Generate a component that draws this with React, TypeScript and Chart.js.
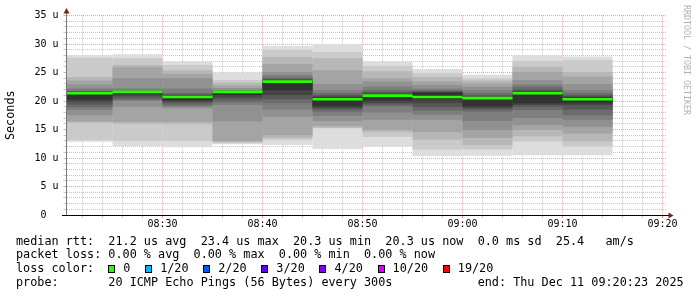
import { useEffect, useRef } from 'react';
import { Chart, registerables } from 'chart.js';

Chart.register(...registerables);

// ---- data ----
const VIEW_START = '08:20:24';
const VIEW_END = '09:20:24';
const STEP_MINUTES = 5;
const GRID_MINOR_MINUTES = 2;
const GRID_MAJOR_MINUTES = 10;

const INTERVAL_STARTS = ['08:20', '08:25', '08:30', '08:35', '08:40', '08:45', '08:50', '08:55', '09:00', '09:05', '09:10'];
const MEDIAN_RTT = [21.35, 21.6, 20.7, 21.6, 23.4, 20.3, 20.95, 20.7, 20.5, 21.35, 20.3];

// 20 sorted ping round-trip times (us) of each 300 s interval
const PINGS_0820 = [12.85, 13.1, 16.2, 16.4, 17.5, 18.4, 18.9, 19.4, 19.9, 20.2, 21.5, 21.6, 21.7, 21.8, 22.2, 22.9, 23.6, 24.2, 27.6, 28.05];
const PINGS_0825 = [12.1, 13.0, 16.0, 16.3, 19.0, 20.0, 20.2, 20.5, 20.9, 21.2, 21.65, 21.7, 21.8, 21.9, 22.2, 24.0, 25.9, 26.3, 27.5, 28.2];
const PINGS_0830 = [11.9, 13.0, 15.9, 16.3, 18.7, 19.0, 19.2, 19.6, 19.9, 20.1, 20.8, 21.0, 21.2, 21.4, 22.2, 24.0, 24.8, 25.4, 26.3, 26.9];
const PINGS_0835 = [12.4, 12.6, 12.8, 13.0, 16.4, 19.3, 19.8, 20.2, 20.6, 21.05, 21.7, 21.75, 21.8, 21.85, 21.9, 22.3, 22.7, 23.2, 23.7, 25.0];
const PINGS_0840 = [12.3, 13.2, 13.5, 14.0, 17.25, 18.5, 19.6, 20.3, 21.05, 21.9, 23.5, 23.7, 23.9, 24.1, 24.5, 25.1, 26.5, 27.7, 29.0, 29.65];
const PINGS_0845 = [11.6, 15.2, 15.3, 15.6, 16.5, 17.4, 18.1, 18.5, 18.8, 19.1, 20.6, 20.8, 21.05, 21.4, 21.9, 23.0, 25.4, 27.5, 28.6, 30.0];
const PINGS_0850 = [12.0, 13.7, 14.5, 14.9, 16.7, 18.0, 19.1, 19.4, 19.7, 20.1, 21.1, 21.3, 21.6, 21.9, 22.5, 23.4, 24.0, 25.2, 26.2, 26.9];
const PINGS_0855 = [10.3, 11.5, 13.2, 14.5, 16.7, 17.6, 18.3, 18.9, 19.6, 20.3, 21.5, 21.6, 21.7, 21.9, 22.2, 22.8, 23.4, 24.2, 24.9, 25.6];
const PINGS_0900 = [10.4, 11.5, 12.3, 13.5, 14.9, 16.5, 18.1, 18.5, 18.8, 19.1, 20.6, 20.8, 21.0, 21.4, 21.9, 22.5, 23.1, 23.6, 24.0, 24.6];
const PINGS_0905 = [10.5, 12.9, 13.8, 14.9, 15.8, 17.0, 18.4, 19.0, 19.3, 19.6, 21.5, 21.7, 22.0, 22.5, 22.9, 23.7, 25.1, 26.0, 27.0, 28.07];
const PINGS_0910 = [10.5, 12.0, 12.9, 14.3, 15.5, 16.7, 17.5, 18.5, 19.3, 19.6, 20.6, 20.8, 21.0, 21.4, 21.9, 23.0, 24.3, 25.1, 27.2, 27.8];

const SMOKE_ROWS = [PINGS_0820, PINGS_0825, PINGS_0830, PINGS_0835, PINGS_0840, PINGS_0845, PINGS_0850, PINGS_0855, PINGS_0900, PINGS_0905, PINGS_0910];

const X_TICK_LABELS = ['08:30', '08:40', '08:50', '09:00', '09:10', '09:20'];
const Y_MAX = 35;
const Y_MINOR_STEP = 1;
const Y_MAJOR_STEP = 5;
const Y_TICK_LABELS = ['0', '5 u', '10 u', '15 u', '20 u', '25 u', '30 u', '35 u'];
const Y_TITLE = 'Seconds';

const LOSS_LABELS = ['0', '1/20', '2/20', '3/20', '4/20', '10/20', '19/20'];
const LOSS_COLORS = ['#26ff00', '#00b8ff', '#0059ff', '#5e00ff', '#7e00ff', '#dd00ff', '#ff0000'];

const STATS_RTT = 'median rtt:  21.2 us avg  23.4 us max  20.3 us min  20.3 us now  0.0 ms sd  25.4   am/s';
const STATS_LOSS = 'packet loss: 0.00 % avg  0.00 % max  0.00 % min  0.00 % now';
const LOSS_TITLE = 'loss color:';
const PROBE_LINE = 'probe:       20 ICMP Echo Pings (56 Bytes) every 300s';
const END_LINE = 'end: Thu Dec 11 09:20:23 2025';
const WATERMARK = 'RRDTOOL / TOBI OETIKER';

// ---- styling ----
const MONO = '"DejaVu Sans Mono", monospace';
const GRID_MINOR = 'rgba(143,143,143,0.5)';
const GRID_MAJOR = 'rgba(222,79,79,0.5)';
const ARROW = '#801f1f';

function toMinutes(t: string): number {
  const [h, m, s = '0'] = t.split(':');
  return Number(h) * 60 + Number(m) + Number(s) / 60;
}

export default function App() {
  const ref = useRef<HTMLCanvasElement>(null);

  useEffect(() => {
    const canvas = ref.current;
    if (!canvas) return;
    const starts = INTERVAL_STARTS.map(toMinutes);
    const n = SMOKE_ROWS[0].length;
    const half = n / 2;

    const smoke = Array.from({ length: half }, (_, k) => {
      const g = Math.floor((190 / half) * (half - (k + 1))) + 50;
      return {
        type: 'bar' as const,
        label: `smoke ${k + 1}`,
        data: SMOKE_ROWS.map((p, i) => ({ x: starts[i] + STEP_MINUTES / 2, y: [p[k], p[n - 1 - k]] })),
        backgroundColor: `rgb(${g},${g},${g})`,
        borderWidth: 0,
        barThickness: 'flex' as const,
        barPercentage: 1,
        categoryPercentage: 1,
        inflateAmount: 0,
        stack: 'smoke',
        order: half - k + 1,
      };
    });

    const medianData: { x: number; y: number | null }[] = [];
    starts.forEach((s, i) => {
      medianData.push({ x: s, y: MEDIAN_RTT[i] }, { x: s + STEP_MINUTES, y: MEDIAN_RTT[i] }, { x: s + STEP_MINUTES, y: null });
    });

    const xLabelMap = new Map<number, string>();
    X_TICK_LABELS.forEach((l) => xLabelMap.set(Math.round(toMinutes(l)), l));

    const overlay = {
      id: 'rrdOverlay',
      afterDraw(chart: any) {
        const { ctx, chartArea: a } = chart;
        ctx.save();
        // y axis
        ctx.strokeStyle = '#777';
        ctx.lineWidth = 1;
        ctx.beginPath();
        ctx.moveTo(a.left, a.bottom + 1);
        ctx.lineTo(a.left, a.top - 3);
        ctx.stroke();
        // x axis
        ctx.strokeStyle = '#000';
        ctx.beginPath();
        ctx.moveTo(a.left - 4.5, a.bottom + 0.5);
        ctx.lineTo(a.right + 2.5, a.bottom + 0.5);
        ctx.stroke();
        // arrows
        ctx.fillStyle = ARROW;
        ctx.beginPath();
        ctx.moveTo(a.left, a.top - 7.5);
        ctx.lineTo(a.left - 3, a.top - 2);
        ctx.lineTo(a.left + 3, a.top - 2);
        ctx.closePath();
        ctx.fill();
        ctx.beginPath();
        ctx.moveTo(a.right + 7, a.bottom + 0.5);
        ctx.lineTo(a.right + 2, a.bottom - 2.5);
        ctx.lineTo(a.right + 2, a.bottom + 3.5);
        ctx.closePath();
        ctx.fill();

        // legend text
        ctx.font = `11.8px ${MONO}`;
        ctx.fillStyle = '#000';
        ctx.textBaseline = 'middle';
        ctx.textAlign = 'left';
        const cw = ctx.measureText('0').width;
        const x0 = 16;
        const y0 = 241.5;
        const dy = 13.7;
        ctx.fillText(STATS_RTT, x0, y0);
        ctx.fillText(STATS_LOSS, x0, y0 + dy);
        ctx.fillText(LOSS_TITLE, x0, y0 + 2 * dy);
        let bx = x0 + 13 * cw;
        const by = Math.round(y0 + 2 * dy) - 4;
        LOSS_LABELS.forEach((lbl, i) => {
          const rx = Math.round(bx);
          ctx.fillStyle = '#000';
          ctx.fillRect(rx, by, 7, 8);
          ctx.fillStyle = LOSS_COLORS[i];
          ctx.fillRect(rx + 1, by + 1, 5, 6);
          ctx.fillStyle = '#000';
          const lx = bx + 15;
          ctx.fillText(lbl, lx, y0 + 2 * dy);
          bx = lx + ctx.measureText(lbl).width + 14.7;
        });
        ctx.fillText(PROBE_LINE, x0, y0 + 3 * dy);
        ctx.fillText(END_LINE, x0 + 65 * cw, y0 + 3 * dy);

        // watermark
        ctx.font = `8.3px ${MONO}`;
        ctx.fillStyle = '#b0b0b0';
        ctx.textBaseline = 'alphabetic';
        ctx.translate(684, 5);
        ctx.rotate(Math.PI / 2);
        ctx.fillText(WATERMARK, 0, 0);
        ctx.restore();
      },
    };

    const gridColor = (c: any) => {
      const v = c.tick ? c.tick.value : 0;
      return c.scale.axis === 'x'
        ? (Math.round(v) % GRID_MAJOR_MINUTES === 0 ? GRID_MAJOR : GRID_MINOR)
        : (Math.round(v) % Y_MAJOR_STEP === 0 ? GRID_MAJOR : GRID_MINOR);
    };

    const chart = new Chart(canvas, {
      type: 'bar',
      data: {
        datasets: [
          ...smoke,
          {
            type: 'line' as const,
            label: 'median rtt',
            data: medianData,
            borderColor: LOSS_COLORS[0],
            borderWidth: 2.6,
            pointRadius: 0,
            spanGaps: false,
            fill: false,
            order: 0,
          },
        ] as any,
      },
      options: {
        responsive: false,
        animation: false,
        events: [],
        layout: { padding: { left: 0, top: 15.5, right: 30.5, bottom: 0 } },
        plugins: { legend: { display: false }, tooltip: { enabled: false } },
        scales: {
          x: {
            type: 'linear',
            offset: false,
            min: toMinutes(VIEW_START),
            max: toMinutes(VIEW_END),
            z: 1,
            afterFit: (s: any) => { s.height = 82; },
            afterBuildTicks: (s: any) => {
              const t = [];
              for (let v = Math.ceil(s.min / GRID_MINOR_MINUTES) * GRID_MINOR_MINUTES; v <= s.max; v += GRID_MINOR_MINUTES) t.push({ value: v });
              s.ticks = t;
            },
            grid: { offset: false, color: gridColor, tickColor: gridColor, lineWidth: 1, tickLength: 3, drawTicks: true },
            border: { display: false, dash: [1, 1] },
            ticks: {
              autoSkip: false,
              maxRotation: 0,
              padding: 0.5,
              color: '#000',
              font: { family: MONO, size: 10 },
              callback: (v: any) => xLabelMap.get(Math.round(Number(v))) ?? '',
            },
          },
          y: {
            type: 'linear',
            min: 0,
            max: Y_MAX,
            stacked: false,
            z: 1,
            afterFit: (s: any) => { s.width = 66.5; },
            afterBuildTicks: (s: any) => {
              const t = [];
              for (let v = 0; v <= Y_MAX; v += Y_MINOR_STEP) t.push({ value: v });
              s.ticks = t;
            },
            grid: { color: gridColor, tickColor: gridColor, lineWidth: 1, tickLength: 3, drawTicks: true },
            border: { display: false, dash: [1, 1] },
            ticks: {
              autoSkip: false,
              padding: 5,
              color: '#000',
              font: { family: MONO, size: 10 },
              callback: (v: any) => {
                const val = Math.round(Number(v));
                if (val % Y_MAJOR_STEP !== 0) return '';
                const lbl = Y_TICK_LABELS[val / Y_MAJOR_STEP] ?? '';
                return lbl.includes(' ') ? lbl : lbl + '  ';
              },
            },
            title: {
              display: true,
              text: Y_TITLE,
              color: '#000',
              font: { family: MONO, size: 11.8 },
              padding: { top: 3.4, bottom: 0 },
            },
          },
        },
      } as any,
      plugins: [overlay],
    });

    return () => chart.destroy();
  }, []);

  return (
    <div style={{ position: 'absolute', left: 0, top: 0, width: 697, height: 297, background: '#fff' }}>
      <canvas ref={ref} width={697} height={297} style={{ display: 'block', width: 697, height: 297 }} />
    </div>
  );
}
